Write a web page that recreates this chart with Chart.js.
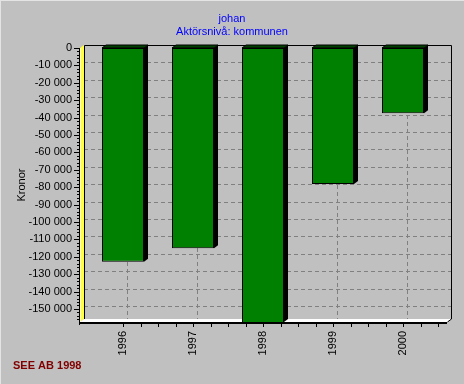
<!DOCTYPE html>
<html>
<head>
<meta charset="utf-8">
<script src="https://cdn.jsdelivr.net/npm/chart.js@4/dist/chart.umd.min.js"></script>
<style>
html,body{margin:0;padding:0;background:#c0c0c0;}
#wrap{width:464px;height:384px;position:relative;}
canvas{display:block;}
</style>
</head>
<body>
<div id="wrap"><canvas id="c" width="464" height="384"></canvas></div>
<script>
// ---- data ----
const categories = ['1996', '1997', '1998', '1999', '2000'];
const values = [-122800, -115100, -160000, -78200, -37500];
const titleLines = ['johan', 'Aktörsnivå: kommunen'];
const yAxisTitle = 'Kronor';
const footerText = 'SEE AB 1998';
const yMin = -157500;
const yMax = 0;
const yStep = 10000;
const yTickValues = [0, -10000, -20000, -30000, -40000, -50000, -60000, -70000,
  -80000, -90000, -100000, -110000, -120000, -130000, -140000, -150000];

const FONT = '"Liberation Sans", Arial, sans-serif';
const DX = 4, DY = -3; // 3D depth offset

function fmt(v) {
  const s = Math.abs(Math.round(v)).toString().replace(/\B(?=(\d{3})+(?!\d))/g, ' ');
  return (v < 0 ? '-' : '') + s;
}

const deco = {
  id: 'deco',
  beforeDraw(chart) {
    const ctx = chart.ctx;
    const a = chart.chartArea;
    const x = chart.scales.x, y = chart.scales.y;
    ctx.save();
    ctx.fillStyle = '#c0c0c0';
    ctx.fillRect(0, 0, chart.width, chart.height);
    ctx.fillStyle = '#e4e4e4';
    ctx.fillRect(0, 0, chart.width, 1);
    ctx.fillRect(0, 0, 1, chart.height);

    const L = a.left - 8, R = a.right + 13 - DX;
    const T = a.top, B = a.bottom;

    // gridlines (back wall)
    ctx.strokeStyle = '#808080';
    ctx.lineWidth = 1;
    ctx.setLineDash([4, 3]);
    yTickValues.forEach(v => {
      if (v === 0) return;
      const py = Math.round(y.getPixelForValue(v) + DY) + 0.5;
      ctx.beginPath();
      ctx.moveTo(L + DX, py);
      ctx.lineTo(R + DX, py);
      ctx.stroke();
    });
    for (let i = 0; i < categories.length; i++) {
      const px = Math.round(x.getPixelForValue(i) + DX) + 0.5;
      ctx.beginPath();
      ctx.moveTo(px, T + DY);
      ctx.lineTo(px, B + DY);
      ctx.stroke();
    }
    ctx.setLineDash([]);

    // back frame lines
    ctx.strokeStyle = '#000';
    ctx.beginPath();
    ctx.moveTo(L + DX + 0.5, B + DY);
    ctx.lineTo(L + DX + 0.5, T + DY + 0.5);
    ctx.lineTo(R + DX + 0.5, T + DY + 0.5);
    ctx.lineTo(R + DX + 0.5, B + DY);
    ctx.stroke();

    // left yellow wall
    ctx.fillStyle = '#ffff40';
    ctx.beginPath();
    ctx.moveTo(L, T);
    ctx.lineTo(L + DX, T + DY);
    ctx.lineTo(L + DX, B + DY);
    ctx.lineTo(L, B);
    ctx.closePath();
    ctx.fill();
    ctx.fillStyle = '#ffffc0';
    ctx.fillRect(L, T, 1, B - T);

    // floor
    ctx.fillStyle = '#ffffff';
    ctx.beginPath();
    ctx.moveTo(L, B);
    ctx.lineTo(L + DX, B + DY);
    ctx.lineTo(R + DX, B + DY);
    ctx.lineTo(R, B);
    ctx.closePath();
    ctx.fill();
    ctx.strokeStyle = '#000';
    ctx.beginPath();
    ctx.moveTo(R + 0.5, B);
    ctx.lineTo(R + DX + 0.5, B + DY);
    ctx.stroke();

    ctx.restore();
  },
  beforeDatasetsDraw(chart) {
    const ctx = chart.ctx;
    const meta = chart.getDatasetMeta(0);
    const a = chart.chartArea;
    ctx.save();
    ctx.beginPath();
    ctx.rect(a.left - 10, a.top + DY - 1, a.right - a.left + 30, a.bottom - a.top + 2 - DY);
    ctx.clip();
    meta.data.forEach(el => {
      const p = el.getProps(['x', 'y', 'base', 'width'], true);
      const left = p.x - p.width / 2, right = p.x + p.width / 2;
      const top = Math.min(p.y, p.base), bot = Math.min(Math.max(p.y, p.base), a.bottom);
      ctx.fillStyle = '#000';
      ctx.beginPath();
      ctx.moveTo(right, top);
      ctx.lineTo(right + DX, top + DY);
      ctx.lineTo(right + DX, bot + DY);
      ctx.lineTo(right, bot);
      ctx.closePath();
      ctx.fill();
      ctx.fillStyle = '#004000';
      ctx.strokeStyle = '#000';
      ctx.lineWidth = 1;
      ctx.beginPath();
      ctx.moveTo(left, top);
      ctx.lineTo(left + DX, top + DY);
      ctx.lineTo(right + DX, top + DY);
      ctx.lineTo(right, top);
      ctx.closePath();
      ctx.fill();
      ctx.stroke();
    });
    ctx.restore();
  },
  afterDraw(chart) {
    const ctx = chart.ctx;
    const a = chart.chartArea;
    const x = chart.scales.x, y = chart.scales.y;
    const L = a.left - 8, R = a.right + 13 - DX;
    const B = a.bottom;
    ctx.save();
    ctx.fillStyle = '#000';
    ctx.fillRect(L - 1, a.top, 1, B - a.top + 3);
    ctx.fillRect(L - 1, B, R - L + 1, 2);
    // y ticks: majors at labelled values, minors between them
    ctx.strokeStyle = '#000';
    ctx.lineWidth = 1;
    yTickValues.forEach((v, i) => {
      for (let m = 0; m < 5; m++) {
        const vv = v - m * (yStep / 5);
        if (vv < yMin) break;
        const py = Math.round(y.getPixelForValue(vv)) + 0.5;
        ctx.beginPath();
        ctx.moveTo(L - (m === 0 ? 6 : 3), py);
        ctx.lineTo(L, py);
        ctx.stroke();
      }
    });
    // x ticks at quarter categories
    for (let k = 0; k <= (categories.length - 1) * 4 + 2; k++) {
      const px = Math.round(x.getPixelForValue(k / 4)) + 0.5;
      if (px > R) break;
      ctx.beginPath();
      ctx.moveTo(px, B + 2);
      ctx.lineTo(px, B + 5);
      ctx.stroke();
    }
    // titles
    ctx.fillStyle = '#0000ff';
    ctx.font = '11px ' + FONT;
    ctx.textAlign = 'center';
    ctx.textBaseline = 'middle';
    ctx.fillText(titleLines[0], 232, 19);
    ctx.fillText(titleLines[1], 232, 32);
    // y axis title
    ctx.fillStyle = '#000';
    ctx.save();
    ctx.translate(22, (a.top + a.bottom) / 2);
    ctx.rotate(-Math.PI / 2);
    ctx.fillText(yAxisTitle, 0, 0);
    ctx.restore();
    // footer
    ctx.fillStyle = '#800000';
    ctx.font = 'bold 11px ' + FONT;
    ctx.textAlign = 'left';
    ctx.fillText(footerText, 13, 366);
    ctx.restore();
  }
};

new Chart(document.getElementById('c'), {
  type: 'bar',
  data: {
    labels: categories,
    datasets: [{
      data: values,
      backgroundColor: '#008000',
      borderColor: '#000000',
      borderWidth: 1,
      borderSkipped: false,
      categoryPercentage: 1.0,
      barPercentage: 0.6
    }]
  },
  options: {
    responsive: false,
    animation: false,
    events: [],
    layout: { padding: { left: 0, right: 26, top: 48, bottom: 0 } },
    plugins: { legend: { display: false }, title: { display: false }, tooltip: { enabled: false } },
    scales: {
      x: {
        offset: true,
        grid: { display: false, drawTicks: false },
        border: { display: false },
        ticks: {
          minRotation: 90, maxRotation: 90, padding: 9,
          color: '#000', font: { family: FONT, size: 11 }
        },
        afterFit(s) { s.height = 62; }
      },
      y: {
        min: yMin, max: yMax,
        grid: { display: false, drawTicks: false },
        border: { display: false },
        afterBuildTicks(s) {
          s.ticks = yTickValues.map(v => ({ value: v }));
        },
        ticks: {
          padding: 16,
          autoSkip: false,
          color: '#000', font: { family: FONT, size: 11 },
          callback: v => fmt(v)
        },
        afterFit(s) { s.width = 88; }
      }
    }
  },
  plugins: [deco]
});
</script>
</body>
</html>
